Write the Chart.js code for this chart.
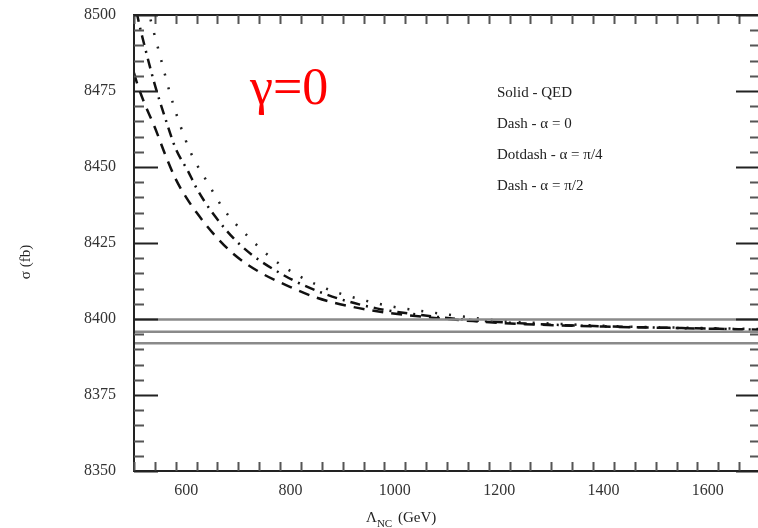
<!DOCTYPE html>
<html>
<head>
<meta charset="utf-8">
<script src="https://cdn.jsdelivr.net/npm/chart.js@4"></script>
<style>
  html, body { margin: 0; padding: 0; background: #fff; overflow: hidden; }
  .wrap { width: 760px; height: 528px; }
</style>
</head>
<body>
<div class="wrap"><canvas id="c" width="760" height="528"></canvas></div>
<script>
// data
const xTicks = [600, 800, 1000, 1200, 1400, 1600];
const yTicks = [8350, 8375, 8400, 8425, 8450, 8475, 8500];

const qedLevels = [8399.8, 8395.8, 8392.0];
const qedX = [500, 1700];

// Dash - alpha = 0 (lowest curve)
const dashA_x = [500, 505, 520, 540, 560, 580, 600, 620, 650, 690, 740, 800, 850, 910, 980, 1050, 1150, 1250, 1400, 1550, 1700];
const dashA_y = [8481, 8478, 8471, 8463, 8454, 8446, 8440, 8435, 8428.5, 8421.5, 8415.5, 8410.5, 8407, 8404.3, 8402.2, 8400.8, 8399.3, 8398.3, 8397.5, 8397, 8396.5];

// Dash - alpha = pi/2 (middle curve)
const dashB_x = [505, 510, 520, 540, 560, 580, 604, 620, 650, 706, 786, 870, 965, 1050, 1150, 1250, 1400, 1550, 1700];
const dashB_y = [8501, 8497, 8490, 8477, 8466, 8456, 8448.5, 8443, 8435, 8424, 8414.5, 8408, 8403.5, 8401.3, 8399.6, 8398.5, 8397.6, 8397, 8396.5];

// Dotdash - alpha = pi/4 (upper curve)
const dotC_x = [525, 537, 553, 569, 588, 610, 642, 674, 716, 764, 818, 876, 940, 1004, 1036, 1100, 1200, 1300, 1450, 1600, 1700];
const dotC_y = [8503, 8495, 8484.6, 8474.2, 8464, 8454.3, 8444.6, 8435.6, 8427.6, 8420, 8414, 8409.5, 8406.2, 8403.8, 8403, 8401.5, 8399.5, 8398.5, 8397.5, 8397, 8396.7];

const legendLines = ['Solid - QED', 'Dash - \u03b1 = 0', 'Dotdash - \u03b1 = \u03c0/4', 'Dash - \u03b1 = \u03c0/2'];

const pts = (xs, ys) => xs.map((x, i) => ({ x: x, y: ys[i] }));
const serif = "'Liberation Serif', 'DejaVu Serif', serif";

const datasets = qedLevels.map(v => ({
    data: qedX.map(x => ({ x: x, y: v })),
    borderColor: '#8a8a8a',
    borderWidth: 2.5
}));
datasets.push({
    data: pts(dashA_x, dashA_y),
    borderColor: '#111',
    borderWidth: 2.5,
    borderDash: [11, 8],
    cubicInterpolationMode: 'monotone'
});
datasets.push({
    data: pts(dashB_x, dashB_y),
    borderColor: '#111',
    borderWidth: 2.5,
    borderDash: [10, 6, 2, 6],
    cubicInterpolationMode: 'monotone'
});
datasets.push({
    data: pts(dotC_x, dotC_y),
    borderColor: '#222',
    borderWidth: 2.5,
    borderDash: [2, 12],
    cubicInterpolationMode: 'monotone'
});

// inward ticks + frame, drawn with the chart's own scales
const frame = {
    id: 'frame',
    afterDatasetsDraw(chart) {
        const { ctx, chartArea: a, scales: { x, y } } = chart;
        ctx.save();
        ctx.strokeStyle = '#222';
        ctx.lineWidth = 2;
        ctx.strokeRect(a.left, a.top, a.right - a.left, a.bottom - a.top);
        for (let v = 500; v <= 1700; v += 40) {
            const px = Math.round(x.getPixelForValue(v)) + 0.5;
            const len = (v % 200 === 0) ? 24 : 9;
            ctx.strokeStyle = (v % 200 === 0) ? '#222' : '#555';
            ctx.beginPath();
            ctx.moveTo(px, a.bottom); ctx.lineTo(px, a.bottom - len);
            ctx.moveTo(px, a.top); ctx.lineTo(px, a.top + len);
            ctx.stroke();
        }
        for (let v = 8350; v <= 8500; v += 5) {
            const py = Math.round(y.getPixelForValue(v)) + 0.5;
            const len = (v % 25 === 0) ? 24 : 10;
            ctx.strokeStyle = (v % 25 === 0) ? '#222' : '#555';
            ctx.beginPath();
            ctx.moveTo(a.left, py); ctx.lineTo(a.left + len, py);
            ctx.moveTo(a.right, py); ctx.lineTo(a.right - len, py);
            ctx.stroke();
        }
        ctx.restore();
    },
    afterDraw(chart) {
        const { ctx } = chart;
        ctx.save();
        ctx.fillStyle = '#222';
        // y title
        ctx.font = '15px ' + serif;
        ctx.textAlign = 'center';
        ctx.textBaseline = 'middle';
        ctx.save();
        ctx.translate(26, 262);
        ctx.rotate(-Math.PI / 2);
        ctx.fillText('\u03c3 (fb)', 0, 0);
        ctx.restore();
        // x title with subscript
        ctx.textAlign = 'left';
        ctx.textBaseline = 'alphabetic';
        let cx = 366;
        ctx.font = '15px ' + serif;
        ctx.fillText('\u039b', cx, 522);
        cx += ctx.measureText('\u039b').width;
        ctx.font = '11px ' + serif;
        ctx.fillText('NC', cx, 527);
        cx += ctx.measureText('NC').width + 2;
        ctx.font = '15px ' + serif;
        ctx.fillText(' (GeV)', cx, 522);
        // legend text
        ctx.font = '15px ' + serif;
        legendLines.forEach((t, i) => ctx.fillText(t, 497, 97 + i * 31));
        // gamma label
        ctx.fillStyle = '#ff0000';
        ctx.font = '52px ' + serif;
        ctx.fillText('\u03b3=0', 250, 104);
        ctx.restore();
    }
};

new Chart(document.getElementById('c'), {
    type: 'line',
    data: { datasets: datasets },
    plugins: [frame],
    options: {
        responsive: false,
        animation: false,
        elements: { point: { radius: 0 }, line: { tension: 0 } },
        layout: { padding: { top: 15, right: 0, left: 0, bottom: 0 } },
        plugins: { legend: { display: false }, tooltip: { enabled: false } },
        scales: {
            x: {
                type: 'linear', min: 500, max: 1700,
                grid: { display: false, drawTicks: false },
                border: { display: false },
                afterBuildTicks: s => { s.ticks = xTicks.map(v => ({ value: v })); },
                afterFit: s => { s.height = 57; s.paddingLeft = 0; s.paddingRight = 0; },
                ticks: { font: { family: serif, size: 16 }, color: '#333', padding: 10, maxRotation: 0,
                         callback: v => String(v) }
            },
            y: {
                type: 'linear', min: 8350, max: 8500,
                grid: { display: false, drawTicks: false },
                border: { display: false },
                afterBuildTicks: s => { s.ticks = yTicks.map(v => ({ value: v })); },
                afterFit: s => { s.width = 134; s.paddingTop = 0; s.paddingBottom = 0; },
                ticks: { font: { family: serif, size: 16 }, color: '#333', padding: 18,
                         callback: v => String(v) }
            }
        }
    }
});
</script>
</body>
</html>
